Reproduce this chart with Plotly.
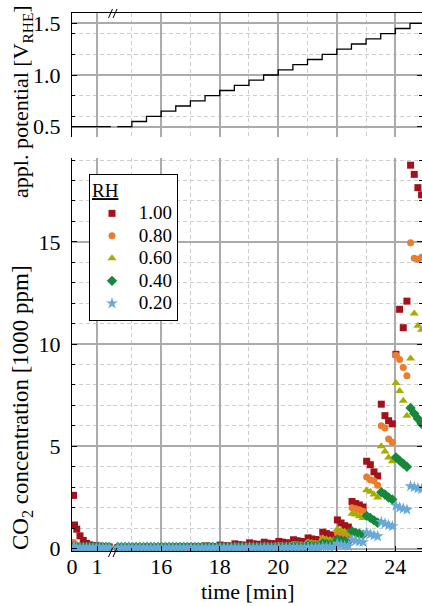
import plotly.graph_objects as go

# ---------------- data ----------------
rh_labels = ["1.00", "0.80", "0.60", "0.40", "0.20"]
rh_colors = ["#a3111c", "#eb7d2f", "#a6ad00", "#15883a", "#6aa8d8"]
rh_symbols = ["square", "circle", "triangle-up", "diamond", "star"]

# time [min] before the axis break
t_left = [0.06, 0.10, 0.19, 0.32, 0.45, 0.58, 0.71, 0.84, 0.97, 1.10, 1.23, 1.36, 1.49]
# time [min] after the axis break
t_right = [14.52, 14.645, 14.77, 14.895,
           15.02, 15.145, 15.27, 15.395,
           15.52, 15.645, 15.77, 15.895,
           16.02, 16.145, 16.27, 16.395,
           16.52, 16.645, 16.77, 16.895,
           17.02, 17.145, 17.27, 17.395,
           17.52, 17.645, 17.77, 17.895,
           18.02, 18.145, 18.27, 18.395,
           18.52, 18.645, 18.77, 18.895,
           19.02, 19.145, 19.27, 19.395,
           19.52, 19.645, 19.77, 19.895,
           20.02, 20.145, 20.27, 20.395,
           20.52, 20.645, 20.77, 20.895,
           21.02, 21.145, 21.27, 21.395,
           21.52, 21.645, 21.77, 21.895,
           22.02, 22.145, 22.27, 22.395,
           22.52, 22.645, 22.77, 22.895,
           23.02, 23.145, 23.27, 23.395,
           23.52, 23.645, 23.77, 23.895,
           24.02, 24.145, 24.27, 24.395,
           24.52, 24.645, 24.77, 24.895]

# CO2 concentration [1000 ppm]
rh100_left = [2.6, 1.15, 0.95, 0.62, 0.40, 0.25, 0.18, 0.15, 0.13, 0.12, 0.10, 0.09, 0.08]
rh080_left = [0.30, 0.25, 0.15, 0.10, 0.08, 0.07, 0.07, 0.06, 0.06, 0.06, 0.05, 0.05, 0.05]
rh060_left = [0.12, 0.10, 0.08, 0.07, 0.06, 0.06, 0.05, 0.05, 0.05, 0.05, 0.05, 0.05, 0.05]
rh040_left = [0.10, 0.09, 0.08, 0.08, 0.08, 0.08, 0.08, 0.08, 0.08, 0.08, 0.08, 0.08, 0.08]
rh020_left = [0.05, 0.05, 0.04, 0.04, 0.04, 0.04, 0.04, 0.04, 0.04, 0.04, 0.04, 0.04, 0.04]

rh100_right = [0.05, 0.05, 0.05, 0.05,  0.05, 0.05, 0.05, 0.05,  0.06, 0.05, 0.05, 0.05,
               0.07, 0.06, 0.06, 0.06,  0.08, 0.07, 0.07, 0.07,  0.10, 0.09, 0.08, 0.08,
               0.13, 0.11, 0.10, 0.10,  0.17, 0.14, 0.13, 0.12,  0.23, 0.19, 0.17, 0.16,
               0.28, 0.23, 0.21, 0.20,  0.31, 0.26, 0.24, 0.23,  0.35, 0.31, 0.28, 0.27,
               0.43, 0.38, 0.35, 0.33,  0.52, 0.47, 0.44, 0.42,  0.80, 0.73, 0.67, 0.63,
               1.40, 1.25, 1.12, 1.05,  2.30, 2.20, 2.13, 2.03,  4.27, 4.10, 3.75, 3.55,
               7.06, 6.50, 6.25, 6.10,  9.50, 11.7, 10.8, 12.1,  18.75, 18.3, 17.65, 17.3]
rh080_right = [0.05, 0.05, 0.05, 0.05,  0.05, 0.05, 0.05, 0.05,  0.05, 0.05, 0.05, 0.05,
               0.05, 0.05, 0.05, 0.05,  0.06, 0.05, 0.05, 0.05,  0.07, 0.06, 0.06, 0.06,
               0.08, 0.07, 0.07, 0.07,  0.09, 0.08, 0.08, 0.08,  0.10, 0.09, 0.09, 0.09,
               0.11, 0.10, 0.10, 0.10,  0.12, 0.11, 0.11, 0.10,  0.15, 0.13, 0.12, 0.12,
               0.20, 0.18, 0.17, 0.16,  0.28, 0.25, 0.23, 0.22,  0.45, 0.40, 0.37, 0.35,
               0.75, 0.68, 0.62, 0.58,  2.00, 1.95, 1.90, 1.82,  3.50, 3.37, 3.32, 3.10,
               6.00, 5.90, 5.36, 5.20,  9.45, 9.25, 8.85, 8.45,  14.95, 14.2, 14.15, 14.25]
rh060_right = [0.05, 0.05, 0.05, 0.05,  0.05, 0.05, 0.05, 0.05,  0.05, 0.05, 0.05, 0.05,
               0.05, 0.05, 0.05, 0.05,  0.05, 0.05, 0.05, 0.05,  0.06, 0.06, 0.06, 0.06,
               0.07, 0.06, 0.06, 0.06,  0.07, 0.07, 0.07, 0.07,  0.08, 0.07, 0.07, 0.07,
               0.09, 0.08, 0.08, 0.08,  0.10, 0.09, 0.09, 0.09,  0.13, 0.12, 0.11, 0.11,
               0.18, 0.16, 0.15, 0.15,  0.30, 0.27, 0.25, 0.24,  0.50, 0.45, 0.42, 0.40,
               0.95, 0.88, 0.82, 0.78,  1.70, 1.66, 1.58, 1.50,  2.85, 2.78, 2.64, 2.50,
               5.00, 4.75, 4.45, 4.27,  8.10, 7.70, 7.23, 6.50,  9.30, 11.5, 10.9, 10.7]
rh040_right = [0.08, 0.08, 0.08, 0.08,  0.08, 0.08, 0.08, 0.08,  0.08, 0.08, 0.08, 0.08,
               0.08, 0.08, 0.08, 0.08,  0.08, 0.08, 0.08, 0.08,  0.08, 0.08, 0.08, 0.08,
               0.08, 0.08, 0.08, 0.08,  0.08, 0.08, 0.08, 0.08,  0.08, 0.08, 0.08, 0.08,
               0.08, 0.08, 0.08, 0.08,  0.09, 0.08, 0.08, 0.08,  0.10, 0.09, 0.09, 0.09,
               0.12, 0.11, 0.10, 0.10,  0.16, 0.14, 0.13, 0.13,  0.25, 0.22, 0.20, 0.20,
               0.45, 0.40, 0.37, 0.35,  0.85, 0.78, 0.72, 0.68,  1.60, 1.50, 1.38, 1.26,
               2.75, 2.64, 2.50, 2.40,  4.46, 4.30, 4.15, 4.00,  6.87, 6.60, 6.35, 6.10]
rh020_right = [0.04, 0.04, 0.04, 0.04,  0.04, 0.04, 0.04, 0.04,  0.04, 0.04, 0.04, 0.04,
               0.04, 0.04, 0.04, 0.04,  0.04, 0.04, 0.04, 0.04,  0.04, 0.04, 0.04, 0.04,
               0.04, 0.04, 0.04, 0.04,  0.04, 0.04, 0.04, 0.04,  0.04, 0.04, 0.04, 0.04,
               0.04, 0.04, 0.04, 0.04,  0.05, 0.04, 0.04, 0.04,  0.05, 0.05, 0.05, 0.05,
               0.06, 0.05, 0.05, 0.05,  0.07, 0.06, 0.06, 0.06,  0.10, 0.09, 0.08, 0.08,
               0.24, 0.18, 0.14, 0.12,  0.44, 0.38, 0.34, 0.31,  0.77, 0.70, 0.65, 0.60,
               1.30, 1.22, 1.15, 1.09,  2.10, 2.00, 1.95, 1.90,  3.05, 3.00, 2.95, 2.90]

co2_left = [rh100_left, rh080_left, rh060_left, rh040_left, rh020_left]
co2_right = [rh100_right, rh080_right, rh060_right, rh040_right, rh020_right]

# applied potential [V_RHE]
pot_t_left = [0.0, 1.55]
pot_v_left = [0.50, 0.50]
pot_t_right = [14.5, 15.0, 15.5, 16.0, 16.5, 17.0, 17.5, 18.0, 18.5, 19.0, 19.5,
               20.0, 20.5, 21.0, 21.5, 22.0, 22.5, 23.0, 23.5, 24.0, 24.5, 25.0]
pot_v_right = [0.50, 0.55, 0.60, 0.65, 0.70, 0.75, 0.80, 0.85, 0.90, 0.95, 1.00,
               1.05, 1.10, 1.15, 1.20, 1.25, 1.30, 1.35, 1.40, 1.45, 1.50, 1.50]

# ---------------- figure ----------------
FONT = "Liberation Serif"
W, H = 422, 606
ML, MR, MT, MB = 72, 0, 13, 55
PW, PH = W - ML - MR, H - MT - MB

def px_x(p):
    return (p - ML) / PW

def px_y(p):
    return (H - MB - p) / PH

split = px_x(113)
top_dom = [px_y(137), 1.0]
bot_dom = [0.0, px_y(158)]
left_rng = [0, 1.64]
right_rng = [14.356, 24.91]

fig = go.Figure()

LEG_TXT = '<span style="font-size:19px">&nbsp;{}</span>'
sizes = [7, 7, 8, 8, 9]
for i in range(5):
    mk = dict(symbol=rh_symbols[i], color=rh_colors[i], size=sizes[i], line=dict(width=0))
    fig.add_trace(go.Scatter(x=t_right, y=co2_right[i], mode="markers", marker=mk,
                             name=LEG_TXT.format(rh_labels[i]), xaxis="x4", yaxis="y4",
                             showlegend=True, cliponaxis=True))
    fig.add_trace(go.Scatter(x=t_left, y=co2_left[i], mode="markers", marker=mk,
                             name=rh_labels[i], xaxis="x3", yaxis="y3", showlegend=False,
                             cliponaxis=True))

fig.add_trace(go.Scatter(x=pot_t_left, y=pot_v_left, mode="lines", line=dict(color="black", width=1.3),
                         xaxis="x", yaxis="y", showlegend=False))
fig.add_trace(go.Scatter(x=pot_t_right, y=pot_v_right, mode="lines", line_shape="hv",
                         line=dict(color="black", width=1.3),
                         xaxis="x2", yaxis="y2", showlegend=False))

GRID = "#ababab"
MGRID = "#cdcdcd"
tickfont = dict(family=FONT, size=22, color="black")

def minor(dt, grid=True):
    return dict(dtick=dt, tick0=0, ticks="inside", ticklen=3, tickcolor="black",
                showgrid=grid, gridcolor=MGRID, griddash="4px,3px", gridwidth=1)

common_x = dict(showline=True, linecolor="black", linewidth=1, zeroline=False,
                gridcolor=GRID, gridwidth=1.5, showgrid=True, tickfont=tickfont)
common_y = dict(showline=True, linecolor="black", linewidth=1, zeroline=False,
                gridcolor=GRID, gridwidth=1.5, showgrid=True, tickfont=tickfont,
                ticks="inside", ticklen=5, tickcolor="black")

fig.update_layout(
    width=W, height=H,
    margin=dict(l=ML, r=MR, t=MT, b=MB),
    paper_bgcolor="white", plot_bgcolor="white",
    font=dict(family=FONT, size=22, color="black"),
    xaxis=dict(domain=[0, split], range=left_rng, anchor="y", side="top", dtick=1, tick0=0,
               ticks="", showticklabels=False, **common_x),
    xaxis2=dict(domain=[split, 1], range=right_rng, anchor="y2", side="top", dtick=2, tick0=0,
                ticks="", showticklabels=False, minor=dict(dtick=1, tick0=0, showgrid=True,
                gridcolor=MGRID, griddash="4px,3px", gridwidth=1), **common_x),
    yaxis=dict(domain=top_dom, range=[0.4, 1.6], anchor="x", dtick=0.5, tick0=0,
               tickformat=".1f", minor=minor(0.2), ticklabelstandoff=6, **common_y),
    yaxis2=dict(domain=top_dom, range=[0.4, 1.6], anchor="x2", side="right", dtick=0.5, tick0=0,
                showticklabels=False, minor=minor(0.2), **common_y),
    xaxis3=dict(domain=[0, split], range=left_rng, anchor="y3", dtick=1, tick0=0,
                ticks="inside", ticklen=5, tickcolor="black", ticklabelstandoff=-4, **common_x),
    xaxis4=dict(domain=[split, 1], range=right_rng, anchor="y4", dtick=2, tick0=0,
                ticks="inside", ticklen=5, tickcolor="black", ticklabelstandoff=-4,
                minor=minor(1), **common_x),
    yaxis3=dict(domain=bot_dom, range=[-0.12, 19.1], anchor="x3", dtick=5, tick0=0,
                minor=minor(1), ticklabelstandoff=6, **common_y),
    yaxis4=dict(domain=bot_dom, range=[-0.12, 19.1], anchor="x4", side="right", dtick=5, tick0=0,
                showticklabels=False, minor=minor(1), **common_y),
    legend=dict(x=px_x(89), y=px_y(174), xanchor="left", yanchor="top",
                bgcolor="white", bordercolor="black", borderwidth=1,
                font=dict(family=FONT, size=15, color="black"),
                title=dict(text='<span style="font-size:19px"><u>RH</u></span>',
                           font=dict(family=FONT, size=17, color="black")),
                itemwidth=34, tracegroupgap=0),
)

# axis titles
fig.add_annotation(text="time [min]", x=0.5, y=px_y(591), xref="paper", yref="paper",
                   showarrow=False, xanchor="center", yanchor="middle",
                   font=dict(family=FONT, size=22, color="black"))
fig.add_annotation(text="CO<sub>2</sub> concentration [1000 ppm]", x=px_x(22), y=px_y(408),
                   xref="paper", yref="paper", textangle=-90, showarrow=False,
                   xanchor="center", yanchor="middle", font=dict(family=FONT, size=23, color="black"))
fig.add_annotation(text="appl. potential [V<sub>RHE</sub>]", x=px_x(22), y=px_y(102),
                   xref="paper", yref="paper", textangle=-90, showarrow=False,
                   xanchor="center", yanchor="middle", font=dict(family=FONT, size=22, color="black"))

# axis-break marks
for (x0, y0, x1, y1) in [(108.5, 557, 112.5, 548), (113, 557, 117, 548),
                         (108.5, 18, 112.5, 9), (113, 18, 117, 9)]:
    fig.add_shape(type="line", xref="paper", yref="paper",
                  x0=px_x(x0), y0=px_y(y0), x1=px_x(x1), y1=px_y(y1),
                  line=dict(color="black", width=1))

fig.write_html("out.html")
